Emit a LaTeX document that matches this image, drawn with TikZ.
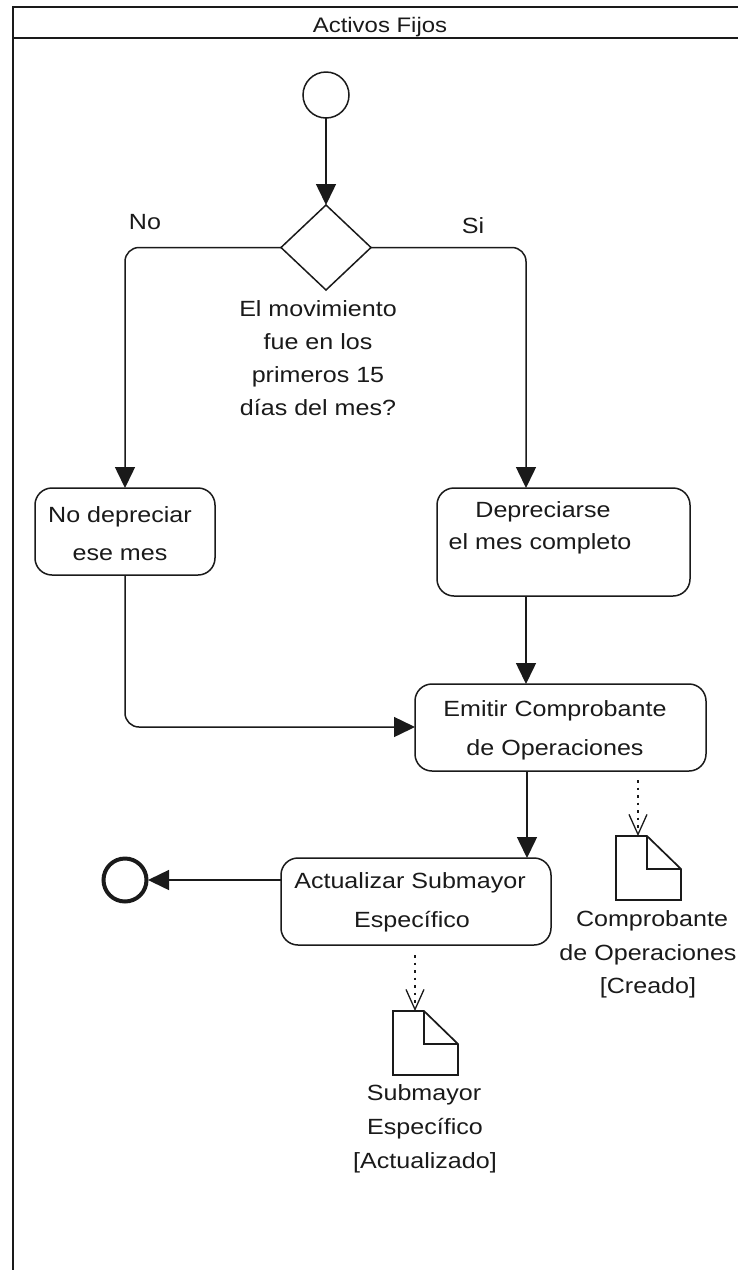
\documentclass[tikz,border=0pt]{standalone}
\usepackage{fontspec}
\setmainfont[FakeStretch=1.14]{Liberation Sans}
\usetikzlibrary{arrows.meta,calc,shapes.geometric}
\definecolor{ink}{HTML}{1A1A1A}
\tikzset{
  x=1pt,y=-1pt,
  every node/.style={inner sep=0pt,outer sep=0pt,text=ink},
  lab/.style={font=\fontsize{22}{22}\selectfont,anchor=center,align=center,text height=16pt,text depth=0pt},
  actbox/.style={draw=ink,line width=1.5pt,rounded corners=17pt,anchor=center},
  flow/.style={draw=ink,line width=1.5pt,-{Triangle[length=21pt,width=20pt]},rounded corners=14pt},
  dep/.style={draw=ink,line width=1.4pt,dash pattern=on 2.5pt off 5pt,-{Straight Barb[length=20pt,width=18pt,line width=1.3pt]}},
  docshape/.style={draw=ink,line width=1.7pt,line join=miter},
  frameline/.style={draw=ink,line width=1.6pt},
}
\newcommand{\docat}[2]{%
  \draw[docshape,fill=white] (#1,#2) -- ++(31,0) -- ++(34,33) -- ++(0,31) -- ++(-65,0) -- cycle;
  \draw[docshape] (#1+31,#2) -- ++(0,33) -- ++(34,0);
}
\begin{document}
\begin{tikzpicture}
\useasboundingbox (0,0) rectangle (738,1270);
\fill[white] (0,0) rectangle (738,1270);
% swimlane
\draw[frameline] (738,7) -- (13,7) -- (13,1270);
\draw[frameline] (13,38) -- (738,38);
\node[lab,font=\fontsize{21}{21}\selectfont] (title) at (380,24) {Activos Fijos};
% nodes
\node[draw=ink,line width=1.5pt,circle,minimum size=46pt] (start) at (326,95) {};
\node[draw=ink,line width=1.5pt,diamond,minimum width=90pt,minimum height=85pt] (dec) at (326,247.5) {};
\node[actbox,minimum width=180pt,minimum height=87pt] (nodep) at (125,531.5) {};
\node[actbox,minimum width=253pt,minimum height=108pt] (depre) at (563.5,542) {};
\node[actbox,minimum width=291pt,minimum height=87pt] (emit) at (560.5,727.5) {};
\node[actbox,minimum width=270pt,minimum height=87pt] (actu) at (416,901.5) {};
\node[draw=ink,line width=4pt,circle,minimum size=43pt] (end) at (125,880) {};
\coordinate (deptop) at (526,488);
\coordinate (depbot) at (526,596);
\coordinate (emittop) at (526,684);
\coordinate (emitbot) at (527,771);
\coordinate (emitleft) at (415,727);
\coordinate (actutop) at (527,858);
\coordinate (actuleft) at (281,880);
\coordinate (endright) at (148,880);
% documents
\docat{616}{836}
\docat{393}{1011}
\coordinate (doc1top) at (638,836);
\coordinate (doc2top) at (415,1011);
\coordinate (emitdot) at (638,780);
\coordinate (actudot) at (415,955);
% connectors
\draw[flow] (start) -- (dec.north);
\draw[flow] (dec.west) -| (nodep.north);
\draw[flow] (dec.east) -| (deptop);
\draw[flow] (depbot) -- (emittop);
\draw[flow] (nodep.south) |- (emitleft);
\draw[flow] (emitbot) -- (actutop);
\draw[flow] (actuleft) -- (endright);
\draw[dep] (emitdot) -- (doc1top);
\draw[dep] (actudot) -- (doc2top);
% texts
\node[lab] (no) at (145,221) {No};
\node[lab] (si) at (473,225) {Si};
\node[lab] (q1) at (318,308) {El movimiento};
\node[lab] (q2) at (318,341) {fue en los};
\node[lab] (q3) at (318,374) {primeros 15};
\node[lab] (q4) at (318,407) {días del mes?};
\node[lab] (t1) at (120,514) {No depreciar};
\node[lab] (t2) at (120,552) {ese mes};
\node[lab] (t3) at (543,509) {Depreciarse};
\node[lab] (t4) at (540,541) {el mes completo};
\node[lab] (t5) at (555,708) {Emitir Comprobante};
\node[lab] (t6) at (555,747) {de Operaciones};
\node[lab] (t7) at (410,880) {Actualizar Submayor};
\node[lab] (t8) at (412,919) {Específico};
\node[lab] (t9) at (652,918) {Comprobante};
\node[lab] (t10) at (648,952) {de Operaciones};
\node[lab] (t11) at (648,985) {[Creado]};
\node[lab] (t12) at (424,1092) {Submayor};
\node[lab] (t13) at (425,1126) {Específico};
\node[lab] (t14) at (425,1160) {[Actualizado]};
\end{tikzpicture}
\end{document}
